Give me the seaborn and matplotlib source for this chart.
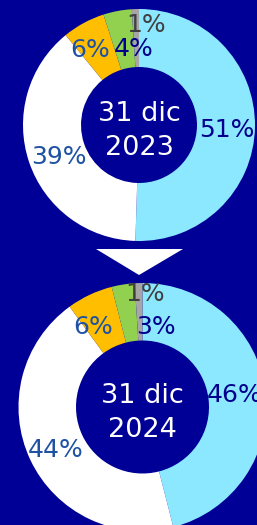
#!/usr/bin/env python3

import numpy as np
import matplotlib
matplotlib.use("Agg")
import matplotlib.pyplot as plt
import seaborn as sns

# data
categories = ["A", "B", "C", "D", "E"]
values_2023 = [51, 39, 6, 4, 1]
values_2024 = [46, 44, 6, 3, 1]
titles = ["31 dic\n2023", "31 dic\n2024"]

BG = "#000096"
colors = ["#8be8ff", "#ffffff", "#ffbf00", "#92d050", "#a6a6a6"]
label_colors = ["#00008c", "#1f52a2", "#1f52a2", "#00008c", "#404040"]

W, H = 257, 525


def draw_donut(ax, values, title, center, radius, hole, lab_r, lab_shift):
    wedges, _ = ax.pie(values, colors=colors, startangle=90, counterclock=False,
                       center=center, radius=radius,
                       wedgeprops=dict(width=radius - hole, edgecolor="none"))
    for w, v, r, s, c in zip(wedges, values, lab_r, lab_shift, label_colors):
        ang = np.deg2rad((w.theta1 + w.theta2) / 2 + s)
        x = center[0] + r * radius * np.cos(ang)
        y = center[1] + r * radius * np.sin(ang)
        ax.text(x, y - 9, f"{v}%", color=c, fontsize=18, ha="center",
                va="baseline")
    top, bottom = title.split("\n")
    ax.text(center[0], center[1] + 4, top, color="white", fontsize=19.5,
            ha="center", va="baseline")
    ax.text(center[0], center[1] - 30, bottom, color="white", fontsize=19.5,
            ha="center", va="baseline")


def main():
    sns.set_style("white", {"axes.facecolor": BG, "figure.facecolor": BG})
    plt.rcParams["font.family"] = ["DejaVu Sans"]

    fig = plt.figure(figsize=(W / 100, H / 100), dpi=100)
    ax = fig.add_axes([0, 0, 1, 1])
    ax.set_facecolor(BG)

    draw_donut(ax, values_2023, titles[0], (139, H - 125), 116, 58,
               [0.76, 0.74, 0.79, 0.67, 0.88], [-1, 2, 4, -7, -6])
    draw_donut(ax, values_2024, titles[1], (142.5, H - 407), 124, 66.5,
               [0.75, 0.77, 0.77, 0.67, 0.93], [1.4, 0, 6, -18, -3])

    # arrow between the two donuts
    ax.fill([96, 183, 139], [H - 249, H - 249, H - 275], color="white", lw=0)

    ax.set_xlim(0, W)
    ax.set_ylim(0, H)
    ax.set_aspect("auto")
    ax.axis("off")

    fig.savefig("out.png", dpi=100, facecolor=BG)


if __name__ == "__main__":
    main()
